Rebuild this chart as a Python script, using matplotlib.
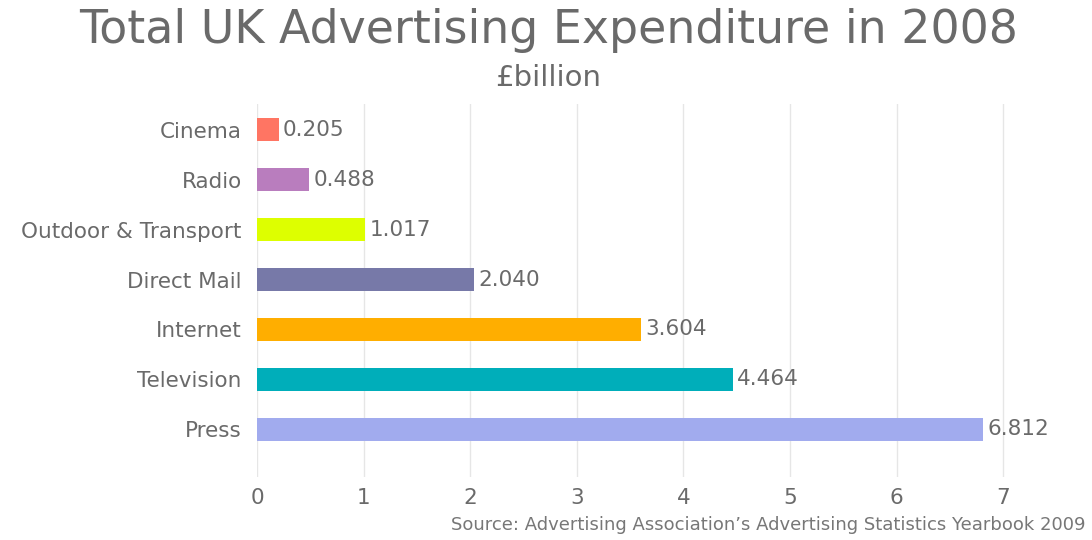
import matplotlib
matplotlib.use("Agg")
import matplotlib.pyplot as plt

# UK ad spend 2008, £billion
media = ["Cinema", "Radio", "Outdoor & Transport", "Direct Mail",
         "Internet", "Television", "Press"]
spend = [0.205, 0.488, 1.017, 2.040, 3.604, 4.464, 6.812]
bar_colors = ["#FF7563", "#B97DBE", "#DDFF00", "#7779A8",
              "#FFAE00", "#00AEBA", "#A1ABEE"]
xticks = [0, 1, 2, 3, 4, 5, 6, 7]

grey = "#6A6A6A"
plt.rcParams["font.family"] = "DejaVu Sans"

fig = plt.figure(figsize=(10.92, 5.40), dpi=100)
ax = fig.add_axes([0.2353, 0.1167, 0.7322, 0.6907])

pos = list(range(len(media)))
ax.barh(pos, spend, height=0.46, color=bar_colors, zorder=2)
for y, v in zip(pos, spend):
    ax.annotate("%.3f" % v, (v, y), xytext=(3, 0), textcoords="offset points",
                va="center", ha="left", fontsize=15.5, color=grey)

ax.set_xlim(0, 7.5)
ax.set_ylim(len(media) - 0.04, -0.52)
ax.set_yticks(pos)
ax.set_yticklabels(media)
ax.set_xticks(xticks)
ax.tick_params(axis="y", length=0, pad=11, labelsize=15.5, labelcolor=grey)
ax.tick_params(axis="x", length=0, pad=8, labelsize=15.5, labelcolor=grey)
ax.grid(axis="x", color="#E6E6E6", linewidth=1, zorder=0)
for s in ax.spines.values():
    s.set_visible(False)

fig.text(0.502, 0.943, "Total UK Advertising Expenditure in 2008",
         ha="center", va="center", fontsize=33, color=grey)
fig.text(0.502, 0.855, "£billion", ha="center", va="center",
         fontsize=21, color=grey)
fig.text(0.994, 0.012, "Source: Advertising Association’s Advertising Statistics Yearbook 2009",
         ha="right", va="bottom", fontsize=13, color="#777777")

fig.savefig("out.png", dpi=100)
